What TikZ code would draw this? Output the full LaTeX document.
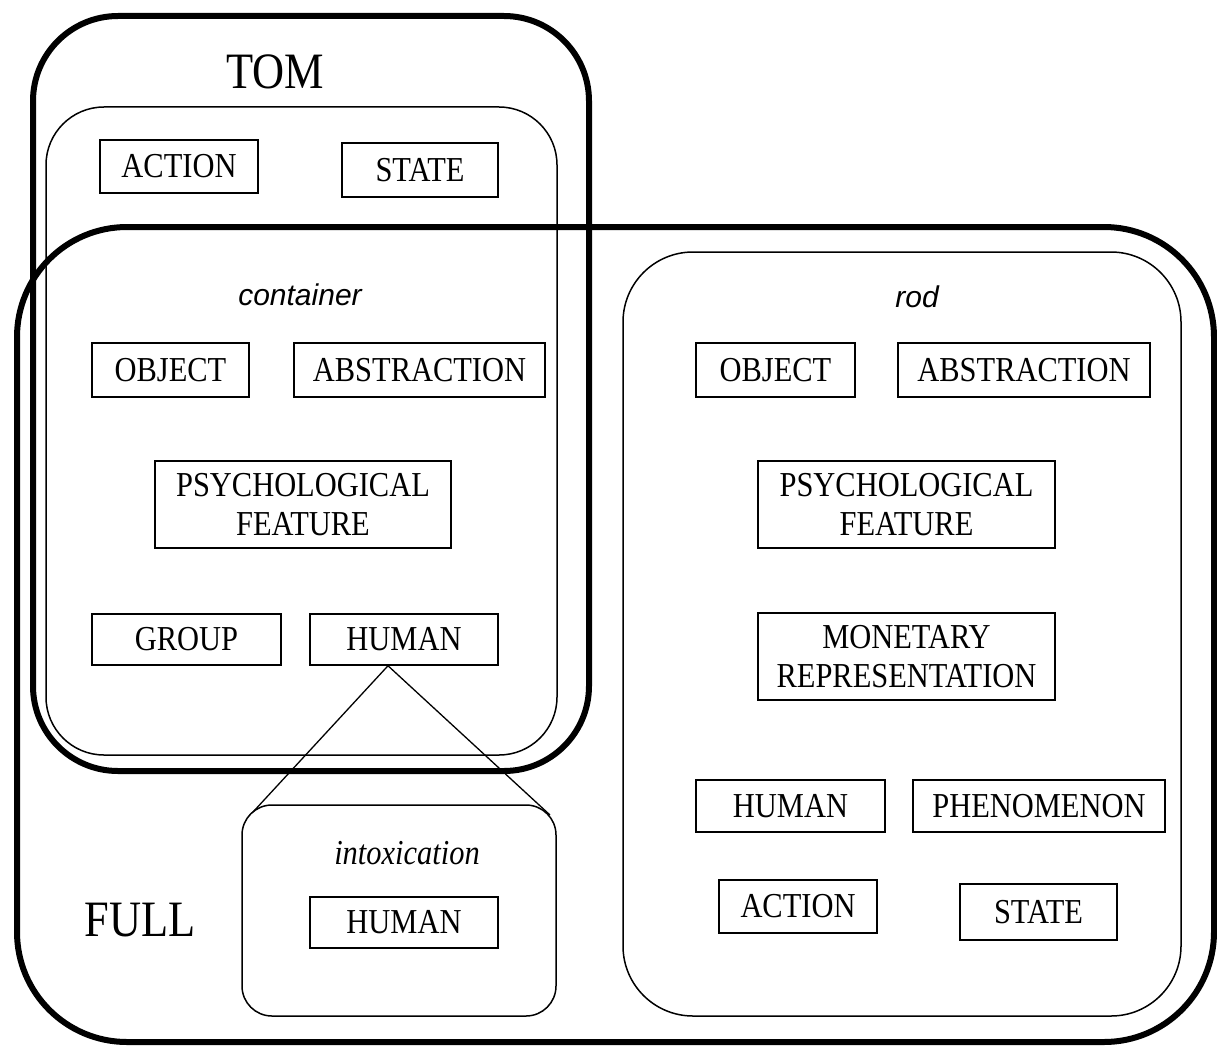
\documentclass[tikz,border=0pt]{standalone}
\usepackage{fontspec}
\setmainfont{Liberation Serif}[FakeStretch=0.87]
\newfontfamily\tagsans{Liberation Sans}
\usetikzlibrary{calc}
\begin{document}
\begin{tikzpicture}[x=1pt,y=-1pt,
  heavyframe/.style={draw, line width=6pt, rounded corners=#1},
  lightframe/.style={draw, line width=1.5pt, rounded corners=#1},
  cat/.style={draw, line width=1.5pt, inner sep=0pt, minimum height=53pt,
    align=center, font=\fontsize{35}{39}\selectfont},
  bigtag/.style={inner sep=0pt, font=\fontsize{51}{55}\selectfont},
  wordtag/.style={inner sep=0pt, font=\tagsans\itshape\fontsize{30}{34}\selectfont},
  sensetag/.style={inner sep=0pt, font=\itshape\fontsize{35}{39}\selectfont},
  link/.style={line width=1.3pt}
]
% canvas
\fill[white] (0,0) rectangle (1217,1046);
\useasboundingbox (0,0) rectangle (1217,1046);

% model frames
\draw[heavyframe=85pt] (33,16) rectangle (589,771);
\draw[heavyframe=110pt] (17,227) rectangle (1214,1042);

% word frames
\draw[lightframe=58pt] (46,107) rectangle (557,755);
\draw[lightframe=70pt] (623,252) rectangle (1181,1016);
\draw[lightframe=30pt] (242,805) rectangle (556,1016);

% model and word labels
\node[bigtag] (tom) at (275,72) {TOM};
\node[bigtag] (full) at (140,920) {FULL};
\node[wordtag] (wcontainer) at (300,295) {container};
\node[wordtag] (wrod) at (917,297) {rod};
\node[sensetag] (wintox) at (407,853) {intoxication};

% container classes
\node[cat, minimum width=158pt] (actL) at (179,166.5) {ACTION};
\node[cat, minimum width=156pt, minimum height=54pt] (stateL) at (420,170) {STATE};
\node[cat, minimum width=157pt, minimum height=54pt] (objL) at (170.5,370) {OBJECT};
\node[cat, minimum width=251pt, minimum height=54pt] (absL) at (419.5,370) {ABSTRACTION};
\node[cat, minimum width=296pt, minimum height=87pt] (psyL) at (303,504.5) {PSYCHOLOGICAL\\FEATURE};
\node[cat, minimum width=189pt, minimum height=51pt] (grpL) at (186.5,639.5) {GROUP};
\node[cat, minimum width=188pt, minimum height=51pt] (humL) at (404,639.5) {HUMAN};

% intoxication class
\node[cat, minimum width=188pt, minimum height=51pt] (humI) at (404,922.5) {HUMAN};

% rod classes
\node[cat, minimum width=159pt, minimum height=54pt] (objR) at (775.5,370) {OBJECT};
\node[cat, minimum width=252pt, minimum height=54pt] (absR) at (1024,370) {ABSTRACTION};
\node[cat, minimum width=297pt, minimum height=87pt] (psyR) at (906.5,504.5) {PSYCHOLOGICAL\\FEATURE};
\node[cat, minimum width=297pt, minimum height=87pt] (monR) at (906.5,656.5) {MONETARY\\REPRESENTATION};
\node[cat, minimum width=189pt, minimum height=52pt] (humR) at (790.5,806) {HUMAN};
\node[cat, minimum width=252pt, minimum height=52pt] (phenR) at (1039,806) {PHENOMENON};
\node[cat, minimum width=158pt] (actR) at (798,906.5) {ACTION};
\node[cat, minimum width=157pt, minimum height=56pt] (stateR) at (1038.5,912) {STATE};

% expansion of HUMAN into the intoxication frame
\coordinate (apex) at ($(humL.south)+(-16,0)$);
\coordinate (intoxL) at (253,812);
\coordinate (intoxR) at (550,815);
\draw[link] (intoxL) -- (apex) -- (intoxR);
\end{tikzpicture}
\end{document}
